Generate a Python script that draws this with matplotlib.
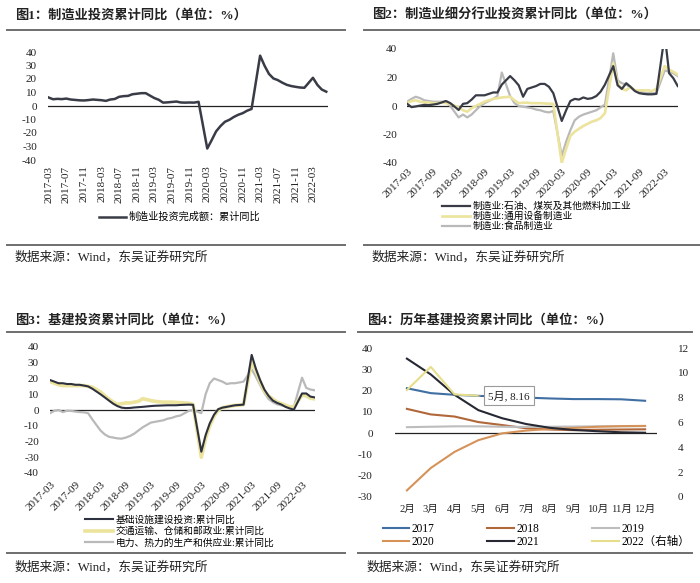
import numpy as np
import pandas as pd
import matplotlib
matplotlib.use("Agg")
import matplotlib.pyplot as plt
import matplotlib.dates as mdates
from matplotlib.lines import Line2D

plt.rcParams['font.family'] = ['Liberation Serif', 'Noto Sans CJK SC']
plt.rcParams['axes.unicode_minus'] = False

W, H = 700, 583

# ---- data -------------------------------------------------------------
# monthly (month end, no January) 2017-02 .. 2022-05
months = pd.date_range("2017-02-28", "2022-05-31", freq="ME")
months = months[months.month != 1]

mfg_total = [6.3, 5.0, 5.3, 5.1, 5.5, 4.8, 4.5, 4.2, 4.1, 4.4, 4.8,
             4.3, 3.8, 4.8, 5.2, 6.8, 7.3, 7.5, 8.7, 9.1, 9.5, 9.5,
             5.9, 4.6, 2.5, 2.7, 3.0, 3.3, 2.6, 2.5, 2.6, 2.5, 3.1,
             -31.5, -25.2, -18.8, -14.8, -11.7, -10.2, -8.1, -6.5, -5.3, -3.5, -2.2,
             37.3, 29.8, 23.8, 20.4, 19.2, 17.3, 15.7, 14.8, 14.2, 13.7, 13.5,
             20.9, 15.6, 12.2, 10.6]

petro = [1.5, -0.8, -0.3, 0.3, 0.8, 0.6, 1.0, 1.5, 2.5, 3.5, 2.0,
         -2.8, 1.5, 2.0, 4.5, 7.5, 7.5, 7.5, 8.5, 9.5, 9.5, 15.0,
         21.0, 18.0, 14.5, 6.5, 12.0, 13.0, 14.0, 15.5, 15.5, 13.5, 9.0,
         -10.5, -3.0, 3.5, 5.0, 4.5, 6.0, 5.0, 5.5, 7.0, 10.0, 15.0,
         28.0, 14.5, 12.0, 16.0, 13.5, 10.5, 9.0, 8.5, 8.2, 8.2, 8.5,
         50.0, 23.0, 19.5, 14.0]
equip = [2.0, 3.5, 4.0, 3.0, 2.5, 2.5, 2.0, 2.0, 2.5, 2.0, 1.5,
         -1.0, -3.0, -4.0, -1.5, 0.0, 1.5, 3.0, 4.0, 5.0, 5.5, 6.0,
         6.5, 4.0, 2.0, 2.3, 2.3, 2.0, 2.0, 2.0, 1.8, 1.6, 1.5,
         -40.0, -30.0, -21.0, -18.0, -16.0, -14.0, -12.5, -11.0, -10.0, -8.5, -5.0,
         30.0, 16.0, 12.0, 11.0, 13.5, 11.0, 11.0, 11.0, 11.0, 10.5, 12.0,
         28.0, 25.5, 24.0, 22.0]
food = [3.0, 5.0, 6.5, 5.5, 4.0, 3.5, 3.0, 3.0, 3.0, 3.0, 0.0,
        -8.0, -6.0, -8.0, -6.0, -3.0, 0.0, 2.0, 3.5, 5.0, 7.0, 23.5,
        7.0, 2.0, 0.0, -0.5, -1.0, -1.5, -2.5, -3.0, -4.0, -4.5, -3.5,
        -35.0, -25.0, -17.0, -10.0, -7.5, -6.0, -5.0, -4.0, -3.0, -1.0, 1.0,
        37.0, 18.0, 16.0, 15.0, 13.0, 11.0, 10.0, 9.5, 9.0, 9.0, 9.0,
        25.0, 24.0, 23.0, 21.0]

infra = [19.0, 18.0, 17.0, 17.0, 16.5, 16.5, 16.0, 16.0, 15.5, 15.0, 13.5,
         10.0, 8.0, 6.0, 4.0, 2.5, 1.5, 1.2, 1.3, 1.6, 1.8, 2.0,
         2.5, 2.7, 2.8, 2.9, 3.0, 3.0, 3.0, 3.2, 3.3, 3.4, 3.3,
         -26.5, -16.0, -8.5, -3.0, 0.5, 1.5, 2.0, 2.5, 3.0, 3.2, 3.4,
         35.0, 26.0, 19.0, 13.0, 9.0, 6.0, 4.5, 3.5, 2.0, 1.0, 0.2,
         10.5, 10.5, 8.5, 8.0]
transport = [18.0, 17.0, 16.0, 15.5, 15.5, 15.5, 15.5, 15.5, 15.5, 15.0, 14.5,
             11.5, 9.0, 7.0, 5.0, 3.5, 4.0, 4.5, 4.5, 5.0, 5.5, 7.2,
             6.0, 5.5, 5.2, 5.0, 5.0, 5.0, 4.8, 4.7, 4.5, 4.3, 3.5,
             -30.0, -18.0, -10.0, -4.0, 0.0, 1.5, 2.0, 2.5, 3.0, 3.0, 3.5,
             31.0, 25.0, 18.0, 12.0, 9.0, 7.0, 5.0, 4.0, 3.0, 2.0, 2.0,
             9.5, 9.0, 7.5, 7.0]
power = [-2.0, -0.5, 0.0, -1.3, -0.5, -0.6, -1.0, -1.3, -1.5, -2.0, -6.0,
         -13.0, -15.5, -17.0, -17.5, -18.0, -18.2, -17.5, -16.5, -15.0, -13.0, -11.0,
         -8.0, -7.5, -7.0, -6.5, -5.5, -5.0, -4.0, -3.5, -2.0, -0.6, 0.0,
         -2.0, 10.0, 17.0, 20.0, 19.0, 18.0, 16.5, 17.0, 17.0, 17.5, 18.0,
         25.8, 21.0, 16.0, 11.0, 7.0, 5.0, 3.6, 3.0, 2.5, 2.3, 2.0,
         20.5, 14.0, 13.0, 12.5]

cats4 = ['2月', '3月', '4月', '5月', '6月', '7月', '8月', '9月', '10月', '11月', '12月']
y2017 = [21.1, 18.8, 18.0, 17.5, 17.2, 16.7, 16.3, 16.0, 16.0, 15.9, 15.2]
y2018 = [11.4, 8.8, 7.8, 5.2, 3.8, 2.3, 1.7, 1.4, 1.6, 1.7, 1.8]
y2019 = [2.8, 3.0, 3.2, 3.2, 3.0, 2.9, 3.0, 3.1, 3.2, 3.2, 3.3]
y2020 = [-26.9, -16.4, -8.8, -3.3, -0.1, 1.2, 2.0, 2.4, 3.0, 3.3, 3.4]
y2021 = [35.0, 27.6, 18.0, 10.8, 7.0, 4.3, 2.5, 1.5, 0.9, 0.4, 0.2]
y2022 = [8.61, 10.48, 8.26, 8.16]

# ---- style ------------------------------------------------------------
DARK = "#393c46"
YELLOW = "#ece39c"
GRAY = "#b9b9b9"
RULE = "#6e6e6e"
TXT = "#222222"


def box(l, t, r, b):
    return [l / W, 1 - b / H, (r - l) / W, (b - t) / H]


def clean(ax, ypad):
    for s in ax.spines.values():
        s.set_visible(False)
    ax.tick_params(length=0, labelsize=8, colors=TXT)
    ax.tick_params(axis="y", pad=ypad)
    ax.axhline(0, color="#222222", lw=0.9, zorder=1)


def hrule(fig, x0, x1, y):
    fig.add_artist(Line2D([x0 / W, x1 / W], [1 - y / H, 1 - y / H],
                          color=RULE, lw=1.4, transform=fig.transFigure))


def head(fig, x, y, txt):
    fig.text(x / W, 1 - y / H, txt, fontsize=9.5, fontweight="bold",
             va="center", ha="left", color=TXT)


def source(fig, x, y):
    fig.text(x / W, 1 - y / H, "数据来源：Wind，东吴证券研究所", fontsize=9.2,
             va="center", ha="left", color=TXT)


def tilt(ax):
    for lab in ax.get_xticklabels():
        lab.set_rotation(45)
        lab.set_ha("right")
        lab.set_rotation_mode("anchor")


fig = plt.figure(figsize=(7.0, 5.83), dpi=100)
fig.patch.set_facecolor("white")

# panel 1
head(fig, 15, 15, "图1：制造业投资累计同比（单位：%）")
hrule(fig, 7, 345, 29.5)
ax1 = fig.add_axes(box(48, 52, 328, 160))
ax1.plot(months, mfg_total, color=DARK, lw=1.8, label="制造业投资完成额：累计同比")
ax1.set_ylim(-40, 40)
ax1.set_yticks(range(-40, 41, 10))
ax1.set_xlim(pd.Timestamp("2017-02-24"), pd.Timestamp("2022-06-12"))
ax1.xaxis.set_major_locator(mdates.MonthLocator(bymonth=(3, 7, 11)))
ax1.xaxis.set_major_formatter(mdates.DateFormatter("%Y-%m"))
clean(ax1, 8)
ax1.tick_params(axis="x", pad=4, rotation=90)
ax1.legend(loc="center", bbox_to_anchor=(180 / W, 1 - 217 / H),
           bbox_transform=fig.transFigure, frameon=False, fontsize=7.3,
           handlelength=2.6, handletextpad=0.3)
hrule(fig, 7, 345, 244.5)
source(fig, 15, 257)

# panel 2
head(fig, 372, 15, "图2：制造业细分行业投资累计同比（单位：%）")
hrule(fig, 364, 700, 29.5)
ax2 = fig.add_axes(box(407, 49, 678, 163))
ax2.plot(months, food, color=GRAY, lw=1.6, label="制造业:食品制造业", zorder=2)
ax2.plot(months, equip, color=YELLOW, lw=1.9, label="制造业:通用设备制造业", zorder=3)
ax2.plot(months, petro, color=DARK, lw=1.6, label="制造业:石油、煤炭及其他燃料加工业", zorder=4)
ax2.set_ylim(-40, 40)
ax2.set_yticks(range(-40, 41, 20))
ax2.set_xlim(pd.Timestamp("2017-02-27"), pd.Timestamp("2022-06-02"))
ax2.xaxis.set_major_locator(mdates.MonthLocator(bymonth=(3, 9)))
ax2.xaxis.set_major_formatter(mdates.DateFormatter("%Y-%m"))
clean(ax2, 7)
tilt(ax2)
ax2.tick_params(axis="x", pad=3)
h, l = ax2.get_legend_handles_labels()
ax2.legend(h[::-1], l[::-1], loc="center left",
           bbox_to_anchor=(437 / W, 1 - 216.5 / H),
           bbox_transform=fig.transFigure, frameon=False, fontsize=7,
           handlelength=2.9, handletextpad=0.25, borderpad=0, labelspacing=0.05)
hrule(fig, 364, 700, 245)
source(fig, 372, 257)

# panel 3
head(fig, 15, 320, "图3：基建投资累计同比（单位：%）")
hrule(fig, 7, 345, 331.7)
ax3 = fig.add_axes(box(50, 347, 315, 473))
ax3.plot(months, power, color=GRAY, lw=1.6, label="电力、热力的生产和供应业:累计同比", zorder=2)
ax3.plot(months, transport, color=YELLOW, lw=2.6, label="交通运输、仓储和邮政业:累计同比", zorder=3)
ax3.plot(months, infra, color="#2e3240", lw=1.5, label="基础设施建设投资:累计同比", zorder=4)
ax3.set_ylim(-40, 40)
ax3.set_yticks(range(-40, 41, 10))
ax3.set_xlim(pd.Timestamp("2017-02-27"), pd.Timestamp("2022-06-02"))
ax3.xaxis.set_major_locator(mdates.MonthLocator(bymonth=(3, 9)))
ax3.xaxis.set_major_formatter(mdates.DateFormatter("%Y-%m"))
clean(ax3, 8)
tilt(ax3)
ax3.tick_params(axis="x", pad=5)
h, l = ax3.get_legend_handles_labels()
ax3.legend(h[::-1], l[::-1], loc="center left",
           bbox_to_anchor=(80 / W, 1 - 531.5 / H),
           bbox_transform=fig.transFigure, frameon=False, fontsize=7,
           handlelength=2.9, handletextpad=0.25, borderpad=0, labelspacing=0.2)
hrule(fig, 7, 345, 553.3)
source(fig, 15, 567)

# panel 4
head(fig, 367, 320, "图4：历年基建投资累计同比（单位：%）")
hrule(fig, 358, 692, 331.7)
ax4 = fig.add_axes(box(395, 348, 657, 497))
x4 = np.arange(len(cats4))
l17, = ax4.plot(x4, y2017, color="#3f6fa3", lw=1.5, label="2017")
l18, = ax4.plot(x4, y2018, color="#b0673a", lw=1.5, label="2018")
l19, = ax4.plot(x4, y2019, color="#bdbdbd", lw=1.5, label="2019")
l20, = ax4.plot(x4, y2020, color="#d5935a", lw=1.5, label="2020")
l21, = ax4.plot(x4, y2021, color="#262833", lw=1.5, label="2021")
ax4.set_ylim(-30, 40)
ax4.set_yticks(range(-30, 41, 10))
ax4.set_xlim(-0.5, len(cats4) - 0.5)
ax4.set_xticks(x4)
ax4.set_xticklabels(cats4)
clean(ax4, 16)
ax4.tick_params(axis="x", pad=6, labelsize=7.6)
ax4r = ax4.twinx()
l22, = ax4r.plot(x4[:len(y2022)], y2022, color="#e6de8a", lw=1.5, label="2022（右轴）")
ax4r.set_ylim(0, 12)
ax4r.set_yticks(range(0, 13, 2))
for s in ax4r.spines.values():
    s.set_visible(False)
ax4r.tick_params(length=0, labelsize=8, colors=TXT, pad=15)
ax4r.annotate("5月, 8.16", xy=(3, y2022[3]), xytext=(7, 0), textcoords="offset points",
              ha="left", va="center", fontsize=8, color=TXT,
              bbox=dict(boxstyle="square,pad=0.4", fc="white", ec="#9a9a9a", lw=0.8),
              arrowprops=dict(arrowstyle="-", color="#9a9a9a", lw=0.8))
hs = [l17, l20, l18, l21, l19, l22]
ax4.legend(hs, [x.get_label() for x in hs], loc="center left", ncol=3,
           bbox_to_anchor=(377 / W, 1 - 535.5 / H), bbox_transform=fig.transFigure,
           frameon=False, fontsize=8.3, handlelength=2.3, handletextpad=0.2,
           columnspacing=4.6, borderpad=0, labelspacing=0.1)
hrule(fig, 358, 692, 553.3)
source(fig, 367, 567)

fig.savefig("out.png", dpi=100)
